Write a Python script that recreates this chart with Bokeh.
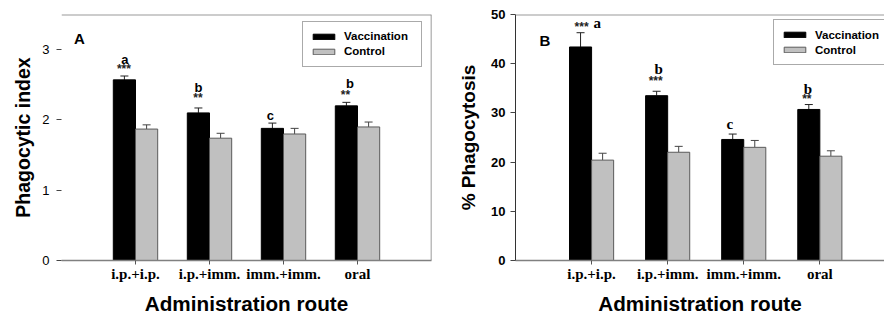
from bokeh.plotting import figure
from bokeh.models import (ColumnDataSource, Whisker, TeeHead, Legend, LegendItem,
                          Label, Span, FixedTicker)
from bokeh.layouts import row
from bokeh.embed import file_html
from bokeh.resources import INLINE
from bokeh.core.properties import value

# ---------------- data ----------------
routes = ["i.p.+i.p.", "i.p.+imm.", "imm.+imm.", "oral"]
route_pos = [1, 2, 3, 4]

# Panel A: phagocytic index
index_vacc = [2.57, 2.10, 1.88, 2.20]
index_vacc_err = [0.055, 0.07, 0.075, 0.05]
index_ctrl = [1.87, 1.74, 1.80, 1.90]
index_ctrl_err = [0.06, 0.07, 0.08, 0.07]
index_letters = ["a", "b", "c", "b"]
index_stars = ["***", "**", "", "**"]

# Panel B: % phagocytosis
phago_vacc = [43.4, 33.5, 24.6, 30.7]
phago_vacc_err = [2.9, 0.9, 1.1, 1.0]
phago_ctrl = [20.4, 22.0, 23.0, 21.2]
phago_ctrl_err = [1.4, 1.2, 1.4, 1.1]
phago_letters = ["a", "b", "c", "b"]
phago_stars = ["***", "***", "", "**"]

SANS = "Liberation Sans"
SERIF = "Liberation Serif"


def make_panel(vacc, vacc_err, ctrl, ctrl_err, letters, stars, style):
    bw = style["bar_w"]
    p = figure(width=style["width"], height=317, output_backend="svg",
               toolbar_location=None, x_range=(0, style["x_end"]),
               y_range=(0, style["y_end"]),
               min_border_left=style["bl"], min_border_right=style["br"],
               min_border_top=14, min_border_bottom=55)
    p.outline_line_color = None
    p.xgrid.visible = False
    p.ygrid.visible = False
    p.background_fill_color = "white"
    p.border_fill_color = "white"

    xv = [x - bw / 2 for x in route_pos]
    xc = [x + bw / 2 for x in route_pos]
    rv = p.vbar(x=xv, top=vacc, width=bw, fill_color="black", line_color="black", line_width=1)
    rc = p.vbar(x=xc, top=ctrl, width=bw, fill_color="#c0c0c0", line_color="#5a5a5a", line_width=1)

    for xs, vals, errs, col in ((xv, vacc, vacc_err, "#222222"), (xc, ctrl, ctrl_err, "#444444")):
        src = ColumnDataSource(dict(x=xs, lower=vals, upper=[v + e for v, e in zip(vals, errs)]))
        p.add_layout(Whisker(base="x", lower="lower", upper="upper", source=src,
                             line_color=col, line_width=1,
                             upper_head=TeeHead(size=8, line_color=col, line_width=1),
                             lower_head=None))

    tops = [v + e for v, e in zip(vacc, vacc_err)]
    star_src = ColumnDataSource(dict(x=xv, y=tops, text=stars,
                                     xo=style["star_dx"], yo=[-d for d in style["star_dy"]]))
    p.text(x="x", y="y", text="text", x_offset="xo", y_offset="yo", source=star_src,
           text_font=value(SANS), text_font_size="12px", text_font_style="bold",
           text_align="center", text_baseline="middle", text_color="#222222")
    let_src = ColumnDataSource(dict(x=xv, y=tops, text=letters,
                                    xo=style["let_dx"], yo=[-d for d in style["let_dy"]]))
    p.text(x="x", y="y", text="text", x_offset="xo", y_offset="yo", source=let_src,
           text_font=value(style["let_font"]), text_font_size=style["let_size"],
           text_font_style="bold", text_align="center", text_baseline="middle",
           text_color="black")

    # axes
    xa = p.xaxis[0]
    xa.ticker = FixedTicker(ticks=route_pos)
    xa.major_label_overrides = {x: r for x, r in zip(route_pos, routes)}
    xa.major_label_text_font = SERIF
    xa.major_label_text_font_style = "bold"
    xa.major_label_text_font_size = "15px"
    xa.major_label_text_color = "black"
    xa.major_label_standoff = 1
    xa.axis_line_color = "#808080"
    xa.axis_line_width = 1.5
    xa.major_tick_line_color = "#555555"
    xa.major_tick_in = 0
    xa.major_tick_out = 4
    xa.minor_tick_line_color = None
    xa.axis_label = "Administration route"
    xa.axis_label_text_font = SANS
    xa.axis_label_text_font_style = "bold"
    xa.axis_label_text_font_size = "20.7px"
    xa.axis_label_text_color = "black"
    xa.axis_label_standoff = 7

    ya = p.yaxis[0]
    ya.ticker = FixedTicker(ticks=style["y_ticks"])
    ya.major_label_text_font = SANS
    ya.major_label_text_font_style = style["ytick_style"]
    ya.major_label_text_font_size = "13px"
    ya.major_label_text_color = "black"
    ya.major_label_standoff = style["ytick_standoff"]
    ya.axis_line_color = style["yaxis_color"]
    ya.axis_line_width = 1
    ya.major_tick_line_color = "#444444"
    ya.major_tick_in = 0
    ya.major_tick_out = 5
    ya.minor_tick_line_color = None
    ya.axis_label = style["ylabel"]
    ya.axis_label_text_font = SANS
    ya.axis_label_text_font_style = "bold"
    ya.axis_label_text_font_size = style["ylabel_size"]
    ya.axis_label_text_color = "black"
    ya.axis_label_standoff = style["ylabel_standoff"]

    # frame lines (top, right)
    p.add_layout(Span(location=style["y_end"], dimension="width", line_color="#9a9a9a", line_width=2))
    if style["right_line"]:
        p.add_layout(Span(location=style["x_end"], dimension="height", line_color="#7a7a7a", line_width=1.5))

    # panel tag
    p.add_layout(Label(x=style["tag_xy"][0], y=style["tag_xy"][1], text=style["tag"],
                       text_font=SANS, text_font_style="bold", text_font_size="15px",
                       text_align="center", text_baseline="middle", text_color="black"))

    legend = Legend(items=[LegendItem(label="Vaccination", renderers=[rv]),
                           LegendItem(label="Control", renderers=[rc])],
                    location=style["legend_xy"], orientation="vertical",
                    glyph_width=27, glyph_height=7, label_height=15,
                    label_width=style["legend_label_w"],
                    label_standoff=7, spacing=0, padding=7, margin=0,
                    label_text_font=SANS, label_text_font_style="bold",
                    label_text_font_size="11.5px", label_text_color="black",
                    label_text_baseline="middle",
                    border_line_color="#555555", border_line_width=1,
                    background_fill_color="white", background_fill_alpha=1)
    p.add_layout(legend)
    return p


style_a = dict(width=442, bl=61, br=11, x_end=5, y_end=3.5, y_ticks=[0, 1, 2, 3], bar_w=0.3,
               star_dx=[-0.5, -0.5, 0, -1], star_dy=[7, 10, 0, 7],
               let_dx=[0.5, 0, -2, 3.5], let_dy=[17, 20, 8, 19],
               let_font=SANS, let_size="13px",
               ytick_style="normal", ytick_standoff=7, yaxis_color=None,
               ylabel="Phagocytic index", ylabel_size="19.5px", ylabel_standoff=5,
               right_line=True, tag="A", tag_xy=(0.243, 3.16), legend_xy=(241, 193.5),
               legend_label_w=70)

style_b = dict(width=442, bl=73, br=0, x_end=4.85, y_end=50, y_ticks=[0, 10, 20, 30, 40, 50],
               bar_w=0.29,
               star_dx=[1, -1, 0, -2], star_dy=[5.5, 10.5, 0, 6],
               let_dx=[16.7, 2, -3, -1], let_dy=[10, 22, 10, 16],
               let_font=SERIF, let_size="15px",
               ytick_style="bold", ytick_standoff=5, yaxis_color="#333333",
               ylabel="% Phagocytosis", ylabel_size="19px", ylabel_standoff=9,
               right_line=False, tag="B", tag_xy=(0.385, 44.7), legend_xy=(258, 195),
               legend_label_w=85)

pa = make_panel(index_vacc, index_vacc_err, index_ctrl, index_ctrl_err,
                index_letters, index_stars, style_a)
pb = make_panel(phago_vacc, phago_vacc_err, phago_ctrl, phago_ctrl_err,
                phago_letters, phago_stars, style_b)

layout = row(pa, pb, spacing=0)
open("out.html", "w").write(file_html(layout, INLINE))
